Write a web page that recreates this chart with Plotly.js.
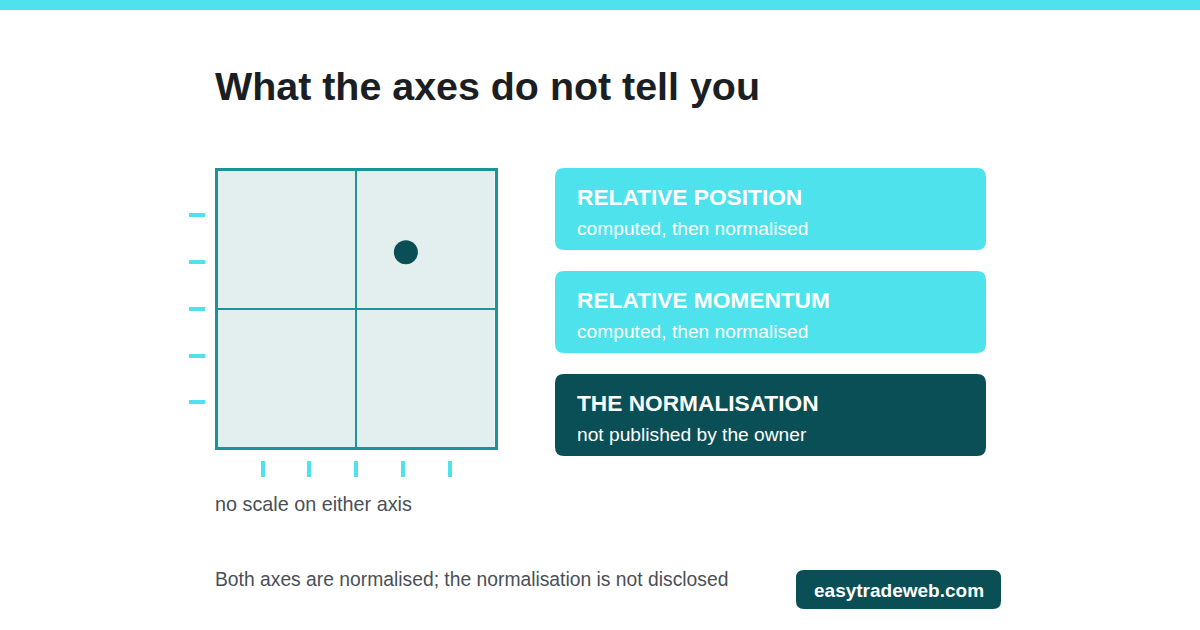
<!DOCTYPE html>
<html>
<head>
<meta charset="utf-8">
<script src="https://cdn.plot.ly/plotly-3.0.1.min.js"></script>
<style>
  html, body { margin: 0; padding: 0; background: #ffffff; }
  #chart { width: 1200px; height: 630px; }
</style>
</head>
<body>
<div id="chart"></div>
<script>
// Data
const pointX = [0.68];
const pointY = [0.704];
const quadrantSplit = [0.5];
const xTickVals = [0.163, 0.332, 0.5, 0.67, 0.84];
const yTickVals = [0.161, 0.33, 0.5, 0.668, 0.839];
const panelTitles = ['RELATIVE POSITION', 'RELATIVE MOMENTUM', 'THE NORMALISATION'];
const panelNotes = ['computed, then normalised', 'computed, then normalised', 'not published by the owner'];

const W = 1200, H = 630;
const CYAN = '#4EE3EC';
const DARK = '#0A4F55';
const TEAL = '#1A9399';
const FONT = '"Liberation Sans", Arial, Helvetica, sans-serif';

// pixel -> paper helpers
const px = x => x / W;
const py = y => 1 - y / H;

function roundRect(x0, y0, x1, y1, r) {
    const p = (x, y) => px(x) + ',' + py(y);
    return 'M' + p(x0 + r, y0) +
        ' L' + p(x1 - r, y0) + ' Q' + p(x1, y0) + ' ' + p(x1, y0 + r) +
        ' L' + p(x1, y1 - r) + ' Q' + p(x1, y1) + ' ' + p(x1 - r, y1) +
        ' L' + p(x0 + r, y1) + ' Q' + p(x0, y1) + ' ' + p(x0, y1 - r) +
        ' L' + p(x0, y0 + r) + ' Q' + p(x0, y0) + ' ' + p(x0 + r, y0) + ' Z';
}

const traces = [
    {
        x: pointX,
        y: pointY,
        type: 'scatter',
        mode: 'markers',
        marker: {color: DARK, size: 24},
        hoverinfo: 'skip',
        showlegend: false
    },
    {
        // carries the detached tick axes
        x: [], y: [], xaxis: 'x2', yaxis: 'y2',
        type: 'scatter', mode: 'markers', hoverinfo: 'skip', showlegend: false
    }
];

const shapes = [
    {type: 'rect', xref: 'paper', yref: 'paper', x0: 0, x1: 1, y0: py(10), y1: 1,
     fillcolor: CYAN, line: {width: 0}, layer: 'below'}
];
const annotations = [
    {text: '<b>What the axes do not tell you</b>', xref: 'paper', yref: 'paper',
     x: px(213), y: py(86), xanchor: 'left', yanchor: 'middle', showarrow: false,
     font: {family: FONT, size: 39.4, color: '#1B1E22'}},
    {text: 'no scale on either axis', xref: 'paper', yref: 'paper',
     x: px(213), y: py(504), xanchor: 'left', yanchor: 'middle', showarrow: false,
     font: {family: FONT, size: 19.8, color: '#4A4F56'}},
    {text: 'Both axes are normalised; the normalisation is not disclosed', xref: 'paper', yref: 'paper',
     x: px(213), y: py(579), xanchor: 'left', yanchor: 'middle', showarrow: false,
     font: {family: FONT, size: 19.3, color: '#4A4F56'}},
    {text: '<b>easytradeweb.com</b>', xref: 'paper', yref: 'paper',
     x: px(898.5), y: py(590), xanchor: 'center', yanchor: 'middle', showarrow: false,
     font: {family: FONT, size: 19, color: '#ffffff'}}
];
shapes.push({type: 'path', xref: 'paper', yref: 'paper', path: roundRect(796, 570, 1001, 609, 8),
             fillcolor: DARK, line: {width: 0}});

panelTitles.forEach((t, i) => {
    const top = 168 + i * 103;
    const fill = i === panelTitles.length - 1 ? DARK : CYAN;
    shapes.push({type: 'path', xref: 'paper', yref: 'paper', path: roundRect(555, top, 986, top + 82, 9),
                 fillcolor: fill, line: {width: 0}});
    annotations.push({text: '<b>' + t + '</b>', xref: 'paper', yref: 'paper',
        x: px(575), y: py(top + 29), xanchor: 'left', yanchor: 'middle', showarrow: false,
        font: {family: FONT, size: 22.7, color: '#ffffff'}});
    annotations.push({text: panelNotes[i], xref: 'paper', yref: 'paper',
        x: px(575), y: py(top + 60), xanchor: 'left', yanchor: 'middle', showarrow: false,
        font: {family: FONT, size: 19.2, color: '#ffffff'}});
});

const layout = {
    width: W,
    height: H,
    margin: {l: 0, r: 0, t: 0, b: 0},
    paper_bgcolor: '#ffffff',
    plot_bgcolor: '#E3EFEF',
    font: {family: FONT},
    showlegend: false,
    xaxis: {
        domain: [px(217.5), px(494.5)],
        range: [0, 1],
        tickvals: quadrantSplit,
        showticklabels: false,
        ticks: '',
        showgrid: true,
        gridcolor: TEAL,
        gridwidth: 2,
        zeroline: false,
        showline: true,
        mirror: true,
        linecolor: TEAL,
        linewidth: 3,
        fixedrange: true
    },
    yaxis: {
        domain: [1 - 447 / H, 1 - 170.5 / H],
        range: [0, 1],
        tickvals: quadrantSplit,
        showticklabels: false,
        ticks: '',
        showgrid: true,
        gridcolor: TEAL,
        gridwidth: 2,
        zeroline: false,
        showline: true,
        mirror: true,
        linecolor: TEAL,
        linewidth: 3,
        fixedrange: true
    },
    xaxis2: {
        overlaying: 'x',
        anchor: 'free',
        position: 1 - 460 / H,
        side: 'bottom',
        range: [0, 1],
        tickvals: xTickVals,
        ticks: 'outside',
        ticklen: 16,
        tickwidth: 4,
        tickcolor: CYAN,
        showticklabels: false,
        showgrid: false,
        zeroline: false,
        showline: false,
        fixedrange: true
    },
    yaxis2: {
        overlaying: 'y',
        anchor: 'free',
        position: 205 / W,
        side: 'left',
        range: [0, 1],
        tickvals: yTickVals,
        ticks: 'outside',
        ticklen: 16,
        tickwidth: 4,
        tickcolor: CYAN,
        showticklabels: false,
        showgrid: false,
        zeroline: false,
        showline: false,
        fixedrange: true
    },
    shapes: shapes,
    annotations: annotations
};

Plotly.newPlot('chart', traces, layout, {displayModeBar: false, staticPlot: true});
</script>
</body>
</html>
